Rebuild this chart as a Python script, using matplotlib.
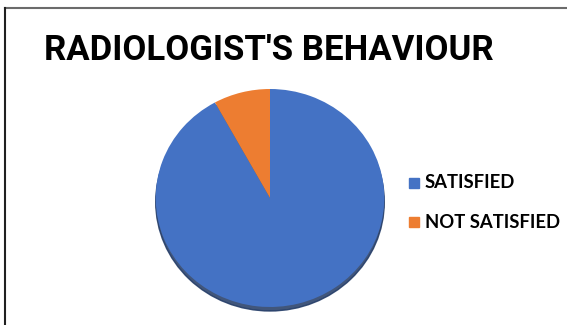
import matplotlib
matplotlib.use("Agg")
import matplotlib.pyplot as plt
from matplotlib.patches import Circle, Rectangle
from matplotlib.lines import Line2D

title = "RADIOLOGIST'S BEHAVIOUR"
labels = ["SATISFIED", "NOT SATISFIED"]
values = [92, 8]
colors = ["#4472C4", "#ED7D31"]

W, H = 567, 325
fig = plt.figure(figsize=(W / 100, H / 100), dpi=100)
fig.patch.set_facecolor("white")

# chart frame: top and left edges
fig.add_artist(Line2D([5 / W, 1.0], [1 - 8 / H, 1 - 8 / H], color="#6b6b6b", lw=1.5))
fig.add_artist(Line2D([5 / W, 5 / W], [0, 1 - 8 / H], color="#202020", lw=1.5))

fig.text(44 / W, 1 - 51 / H, title, fontsize=25, fontweight="bold",
         family="Roboto", ha="left", va="center", color="black")

cx, cy, rx, ry = 270, 198, 114.3, 109
pad = 1.06
ax = fig.add_axes([(cx - rx * pad) / W, (H - cy - ry * pad) / H,
                   2 * rx * pad / W, 2 * ry * pad / H])
ax.axis("off")

# soft shadow under the pie
ax.add_patch(Circle((0.0, -4 / ry), 1.0, color="#1f3864", alpha=0.85, zorder=0))
wedges, _ = ax.pie(values, colors=colors, startangle=90, counterclock=False,
                   wedgeprops=dict(linewidth=0))
ax.set_aspect("auto")
for w in wedges:
    w.set_zorder(1)
ax.set_xlim(-pad, pad)
ax.set_ylim(-pad, pad)

# legend
leg_y = [183, 222]
for lab, col, y in zip(labels, colors, leg_y):
    fig.add_artist(Rectangle((409 / W, 1 - (y + 5) / H), 10 / W, 10 / H,
                             transform=fig.transFigure, color=col))
    fig.text(425 / W, 1 - y / H, lab, fontsize=13.3, fontweight="bold",
             family="Lato", ha="left", va="center", color="black")

fig.savefig("out.png", dpi=100)
